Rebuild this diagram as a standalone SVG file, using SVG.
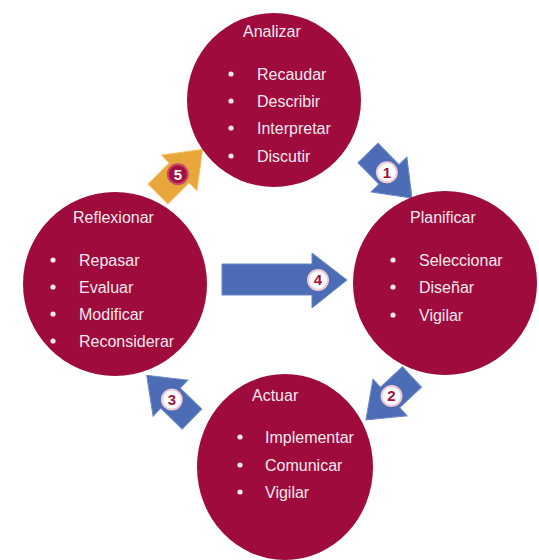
<svg xmlns="http://www.w3.org/2000/svg" width="539" height="560" viewBox="0 0 539 560">
<defs>
<style>
.node{fill:#9e0b3c}
.t{font-family:"Liberation Sans",Arial,sans-serif;font-size:16px;fill:#f6e8ef}
.b{fill:#f6e8ef}
.arr{fill:#4c6db5;stroke:#6a88c8;stroke-width:1}
.arro{fill:#e9a73b;stroke:#f0bf6a;stroke-width:1}
.lc{fill:#ffffff;stroke:#f0c8d4;stroke-width:2}
.ln{font-family:"Liberation Sans",Arial,sans-serif;font-size:15px;font-weight:bold;fill:#a3113f;text-anchor:middle}
</style>
<polygon id="ah" points="0,-14 30,-14 30,-25 63,0 30,25 30,14 0,14"/>
</defs>
<rect width="539" height="560" fill="#ffffff"/>
<g id="connectors">
<g transform="translate(368,153) rotate(45.7)">
<use href="#ah" class="arr"/>
<circle cx="27" cy="0" r="10" class="lc"/>
<text class="ln" transform="translate(27,0) rotate(-45.7)" y="5.3">1</text>
</g>
<g transform="translate(412,377) rotate(137)">
<use href="#ah" class="arr"/>
<circle cx="28" cy="0" r="10" class="lc"/>
<text class="ln" transform="translate(28,0) rotate(-137)" y="5.3">2</text>
</g>
<g transform="translate(192,419) rotate(-136)">
<use href="#ah" class="arr"/>
<circle cx="28" cy="0" r="10" class="lc"/>
<text class="ln" transform="translate(28,0) rotate(136)" y="5.3">3</text>
</g>
<g transform="translate(158,194) rotate(-45)">
<use href="#ah" class="arro"/>
<circle cx="28" cy="0" r="10" class="lc" style="fill:#a3113f;stroke:#c84a6a"/>
<text class="ln" transform="translate(28,0) rotate(45)" y="5.3" style="fill:#ffffff">5</text>
</g>
<g>
<polygon class="arr" points="222,264 312,264 312,253 347,280 312,308 312,295 222,295"/>
<circle cx="318" cy="280" r="10" class="lc"/>
<text class="ln" x="318" y="285.3">4</text>
</g>
</g>
<g id="analizar">
<circle class="node" cx="274" cy="100" r="87"/>
<text class="t" x="243" y="37">Analizar</text>
<circle class="b" cx="231" cy="74" r="2.6"/><text class="t" x="257" y="80">Recaudar</text>
<circle class="b" cx="231" cy="101" r="2.6"/><text class="t" x="257" y="107">Describir</text>
<circle class="b" cx="231" cy="128" r="2.6"/><text class="t" x="257" y="134">Interpretar</text>
<circle class="b" cx="231" cy="156" r="2.6"/><text class="t" x="257" y="162">Discutir</text>
</g>
<g id="reflexionar">
<circle class="node" cx="115" cy="284" r="92"/>
<text class="t" x="73" y="223">Reflexionar</text>
<circle class="b" cx="53" cy="260" r="2.6"/><text class="t" x="79" y="266">Repasar</text>
<circle class="b" cx="53" cy="287" r="2.6"/><text class="t" x="79" y="293">Evaluar</text>
<circle class="b" cx="53" cy="314" r="2.6"/><text class="t" x="79" y="320">Modificar</text>
<circle class="b" cx="53" cy="341" r="2.6"/><text class="t" x="79" y="347">Reconsiderar</text>
</g>
<g id="planificar">
<circle class="node" cx="445" cy="283" r="92"/>
<text class="t" x="410" y="223">Planificar</text>
<circle class="b" cx="393" cy="260" r="2.6"/><text class="t" x="419" y="266">Seleccionar</text>
<circle class="b" cx="393" cy="287" r="2.6"/><text class="t" x="419" y="293">Diseñar</text>
<circle class="b" cx="393" cy="315" r="2.6"/><text class="t" x="419" y="321">Vigilar</text>
</g>
<g id="actuar">
<ellipse class="node" cx="285" cy="467" rx="88" ry="93"/>
<text class="t" x="252" y="401">Actuar</text>
<circle class="b" cx="240" cy="437" r="2.6"/><text class="t" x="265" y="443">Implementar</text>
<circle class="b" cx="240" cy="465" r="2.6"/><text class="t" x="265" y="471">Comunicar</text>
<circle class="b" cx="240" cy="492" r="2.6"/><text class="t" x="265" y="498">Vigilar</text>
</g>
</svg>
